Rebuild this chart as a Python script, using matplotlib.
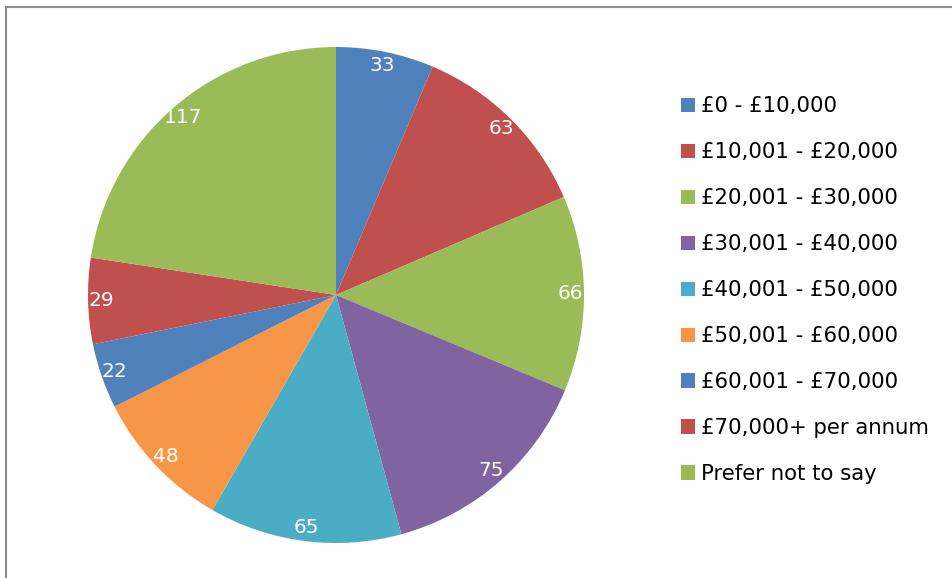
import matplotlib.pyplot as plt
from matplotlib.patches import Rectangle

# 数据
labels = ['£0 - £10,000', '£10,001 - £20,000', '£20,001 - £30,000',
          '£30,001 - £40,000', '£40,001 - £50,000', '£50,001 - £60,000',
          '£60,001 - £70,000', '£70,000+ per annum', 'Prefer not to say']
values = [33, 63, 66, 75, 65, 48, 22, 29, 117]
colors = ['#4F81BD', '#C0504D', '#9BBB59', '#8064A2', '#4BACC6',
          '#F79646', '#4F81BD', '#C0504D', '#9BBB59']

W, H = 952, 578
fig = plt.figure(figsize=(W / 100, H / 100), dpi=100)

# 外框（只有左边和上边在画面内）
fig.patches.append(Rectangle((6 / W, -0.05), 1.1, (H - 7) / H + 0.05,
                             transform=fig.transFigure, fill=False,
                             edgecolor='#8c8c8c', linewidth=1.5))

# 饼图
cx, cy, r = 336, 295, 248
ax = fig.add_axes([(cx - r) / W, (H - cy - r) / H, 2 * r / W, 2 * r / H])
total = sum(values)
wedges, texts, autotexts = ax.pie(
    values, colors=colors, startangle=90, counterclock=False, radius=1,
    autopct=lambda p: f'{round(p * total / 100):d}', pctdistance=0.945,
    wedgeprops=dict(linewidth=0),
    textprops=dict(color='white', fontsize=14.5))
ax.set_xlim(-1, 1)
ax.set_ylim(-1, 1)
ax.set_aspect('equal')
ax.axis('off')

# 图例
fig.legend(wedges, labels, loc='upper left',
           bbox_to_anchor=(672 / W, (H - 88) / H),
           frameon=False, fontsize=15.3,
           handlelength=0.66, handleheight=0.66, handletextpad=0.3,
           labelspacing=1.22, borderaxespad=0)

fig.savefig('out.png', dpi=100)
